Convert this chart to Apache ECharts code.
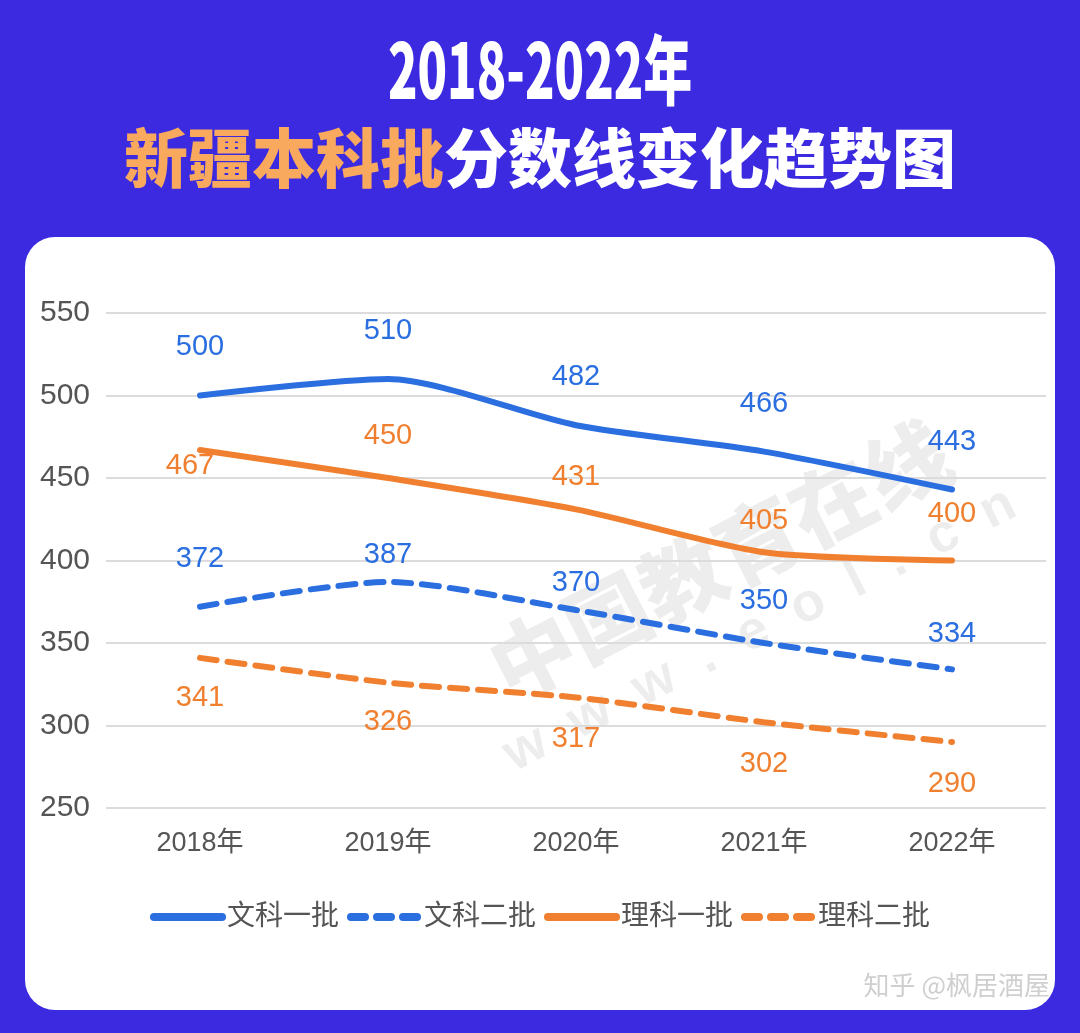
<!DOCTYPE html>
<html>
<head>
<meta charset="utf-8">
<style>
  html, body { margin: 0; padding: 0; background: #3b2ae0; }
  #charts { width: 1080px; height: 1033px; }
</style>
<script src="https://cdn.jsdelivr.net/npm/echarts@6/dist/echarts.min.js"></script>
</head>
<body>
<div id="charts"></div>
<script>
const years = ['2018年', '2019年', '2020年', '2021年', '2022年']
const wenke1 = [500, 510, 482, 466, 443]
const wenke2 = [372, 387, 370, 350, 334]
const like1 = [467, 450, 431, 405, 400]
const like2 = [341, 326, 317, 302, 290]
const yTicks = { min: 250, max: 550, step: 50 }

const blue = '#2b6ee0'
const orange = '#f0802f'
const font = '"Liberation Sans", "Noto Sans CJK SC", sans-serif'

// label placement per point: [position, distance, dx]
const wenke1Pos = [['top', 33, 0], ['top', 33, 0], ['top', 33, 0], ['top', 33, 0], ['top', 33, 0]]
const wenke2Pos = [['top', 33, 0], ['top', 12, 0], ['top', 12, 0], ['top', 27, 0], ['top', 20, 0]]
const like1Pos = [['bottom', 1, -10], ['top', 27, 0], ['top', 17, 0], ['top', 16, 0], ['top', 32, 0]]
const like2Pos = [['bottom', 25, 0], ['bottom', 24, 0], ['bottom', 27, 0], ['bottom', 27, 0], ['bottom', 27, 0]]

function withLabels(values, pos, color) {
  return values.map((v, i) => ({
    value: v,
    label: {
      show: true,
      position: pos[i][0],
      distance: pos[i][1],
      offset: [pos[i][2], 0],
      color: color,
      fontSize: 29,
      fontFamily: font,
    },
  }))
}

function makeSeries(name, values, pos, color, dashed) {
  return {
    name: name,
    type: 'line',
    smooth: 0.25,
    symbol: 'circle',
    symbolSize: 1,
    showSymbol: true,
    data: withLabels(values, pos, color),
    lineStyle: {
      color: color,
      width: 6,
      type: dashed ? [17, 11] : 'solid',
      cap: 'round',
    },
    itemStyle: { color: 'rgba(0,0,0,0)' },
  }
}

const legendLine = (name, color, dashed) => ({
  name: name,
  itemStyle: { opacity: 0 },
  lineStyle: { color: color, width: 8, type: dashed ? [14, 12] : 'solid', cap: 'round' },
})

const charts = echarts.init(document.getElementById('charts'))
charts.setOption({
  backgroundColor: '#3b2ae0',
  animation: false,
  graphic: [
    {
      type: 'text',
      x: 540,
      y: 70,
      scaleX: 0.64,
      style: {
        text: '2018-2022年',
        fill: '#ffffff',
        font: '900 76px "Noto Sans CJK SC", sans-serif',
        align: 'center',
        verticalAlign: 'middle',
      },
    },
    {
      type: 'text',
      left: 'center',
      top: 126,
      style: {
        text: '{o|新疆本科批}{w|分数线变化趋势图}',
        rich: {
          o: { fill: '#f9a95e', font: '900 64px "Noto Sans CJK SC", sans-serif' },
          w: { fill: '#ffffff', font: '900 64px "Noto Sans CJK SC", sans-serif' },
        },
      },
    },
    {
      type: 'rect',
      z: -10,
      shape: { x: 25, y: 237, width: 1030, height: 773, r: 30 },
      style: { fill: '#ffffff' },
    },
    {
      type: 'text',
      x: 720,
      y: 560,
      rotation: Math.PI * 0.15,
      z: -5,
      style: {
        text: '中国教育在线',
        fill: 'rgba(0,0,0,0.07)',
        font: '900 84px "Noto Sans CJK SC", sans-serif',
        align: 'center',
        verticalAlign: 'middle',
      },
    },
    {
      type: 'text',
      x: 760,
      y: 630,
      rotation: Math.PI * 0.15,
      z: -5,
      style: {
        text: 'w  w  w  .  e  o  l  .  c  n',
        fill: 'rgba(0,0,0,0.07)',
        font: 'bold 54px "Liberation Sans", sans-serif',
        align: 'center',
        verticalAlign: 'middle',
      },
    },
    {
      type: 'text',
      right: 30,
      top: 972,
      style: {
        text: '知乎 @枫居酒屋',
        fill: '#cfcfcf',
        font: '26px "Noto Sans CJK SC", sans-serif',
      },
    },
  ],
  legend: {
    top: 898,
    left: 'center',
    itemWidth: 68,
    itemHeight: 14,
    itemGap: 8,
    textStyle: { color: '#555', fontSize: 28, fontFamily: font },
    data: [
      legendLine('文科一批', blue, false),
      legendLine('文科二批', blue, true),
      legendLine('理科一批', orange, false),
      legendLine('理科二批', orange, true),
    ],
  },
  grid: { left: 106, right: 34, top: 313, bottom: 225 },
  xAxis: {
    type: 'category',
    data: years,
    boundaryGap: true,
    axisLine: { show: false },
    axisTick: { show: false },
    axisLabel: { color: '#555', fontSize: 27, fontFamily: font, margin: 22 },
  },
  yAxis: {
    type: 'value',
    min: yTicks.min,
    max: yTicks.max,
    interval: yTicks.step,
    axisLine: { show: false },
    axisTick: { show: false },
    axisLabel: { color: '#555', fontSize: 30, fontFamily: font, margin: 16 },
    splitLine: { lineStyle: { color: '#dcdcdc', width: 2 } },
  },
  series: [
    makeSeries('文科一批', wenke1, wenke1Pos, blue, false),
    makeSeries('文科二批', wenke2, wenke2Pos, blue, true),
    makeSeries('理科一批', like1, like1Pos, orange, false),
    makeSeries('理科二批', like2, like2Pos, orange, true),
  ],
})
</script>
</body>
</html>
